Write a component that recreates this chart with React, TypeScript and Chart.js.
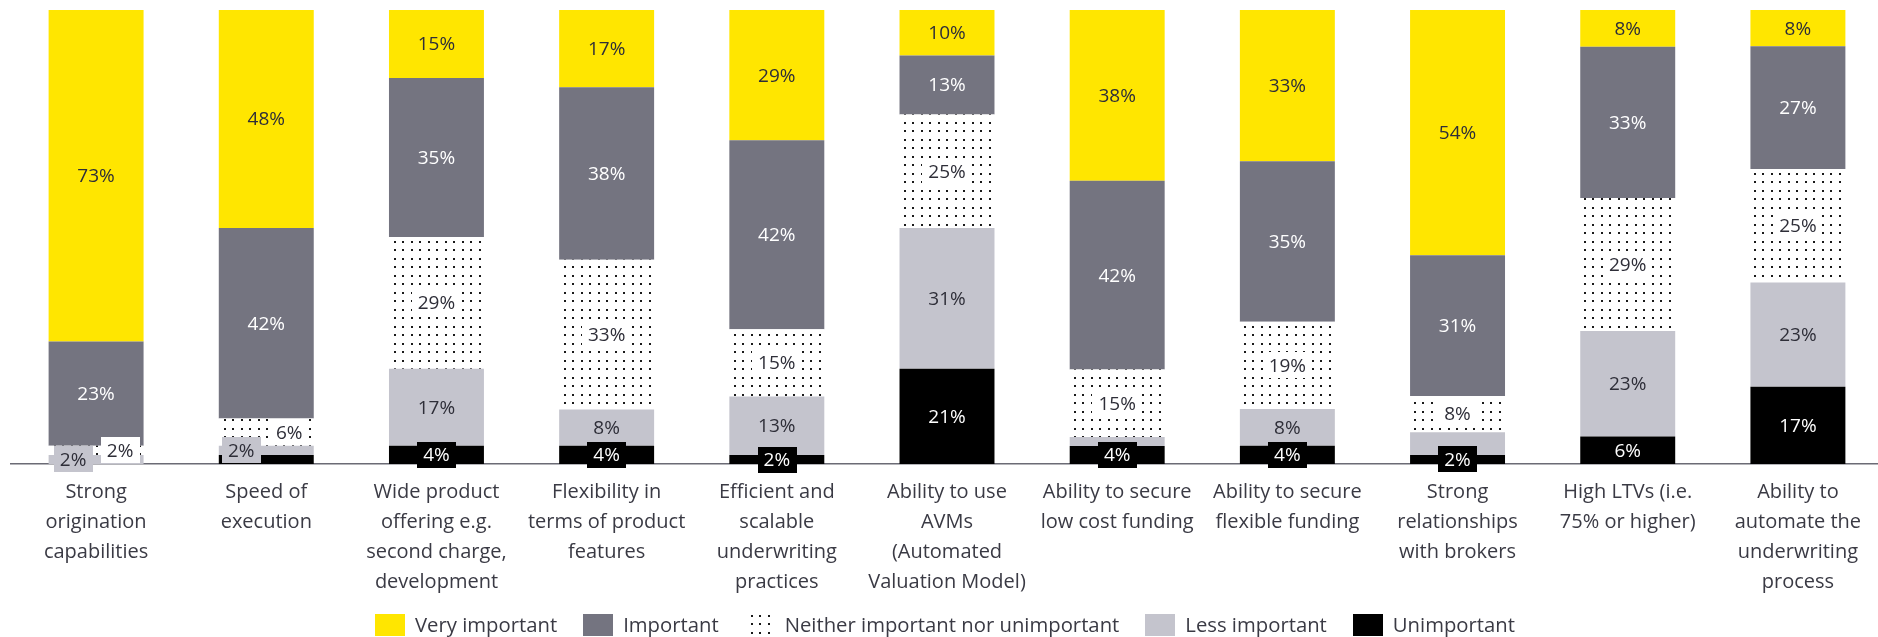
import React, { useEffect, useRef } from "react";
import { Chart, registerables } from "chart.js";

Chart.register(...registerables);

// ---------------- data ----------------
const categories: string[][] = [
  ["Strong", "origination", "capabilities"],
  ["Speed of", "execution"],
  ["Wide product", "offering e.g.", "second charge,", "development"],
  ["Flexibility in", "terms of product", "features"],
  ["Efficient and", "scalable", "underwriting", "practices"],
  ["Ability to use", "AVMs", "(Automated", "Valuation Model)"],
  ["Ability to secure", "low cost funding"],
  ["Ability to secure", "flexible funding"],
  ["Strong", "relationships", "with brokers"],
  ["High LTVs (i.e.", "75% or higher)"],
  ["Ability to", "automate the", "underwriting", "process"],
];

const veryImportant = [73, 48, 15, 17, 29, 10, 38, 33, 54, 8, 8];
const important = [23, 42, 35, 38, 42, 13, 42, 35, 31, 33, 27];
const neither = [2, 6, 29, 33, 15, 25, 15, 19, 8, 29, 25];
const lessImportant = [2, 2, 17, 8, 13, 31, 2, 8, 5, 23, 23];
const unimportant = [0, 2, 4, 4, 2, 21, 4, 4, 2, 6, 17];

const seriesNames = [
  "Unimportant",
  "Less important",
  "Neither important nor unimportant",
  "Important",
  "Very important",
];
const seriesValues = [unimportant, lessImportant, neither, important, veryImportant];

// segments without a printed label in the source
const unlabeled: number[][] = [[1], [6, 8], [], [], []];
// horizontal nudges of some small-segment labels (px)
const labelShift: Record<number, number>[] = [{}, { 0: -23, 1: -25 }, { 0: 24, 1: 23 }, {}, {}];

// ---------------- styles ----------------
const YELLOW = "#FFE600";
const DARK = "#747480";
const LIGHT = "#C4C4CD";
const BLACK = "#000000";
const TEXT = "#2E2E38";
const FONT = "'Open Sans', 'DejaVu Sans', sans-serif";

function makeDots(): CanvasPattern | string {
  const c = document.createElement("canvas");
  c.width = 17;
  c.height = 17;
  const g = c.getContext("2d");
  if (!g) return "#fff";
  g.fillStyle = "#ffffff";
  g.fillRect(0, 0, 17, 17);
  g.fillStyle = "#1a1a1a";
  [[3, 3], [11, 3], [3, 11], [11, 11]].forEach(([x, y]) => g.fillRect(x, y, 2, 2));
  return g.createPattern(c, "repeat") || "#fff";
}

export default function App() {
  const ref = useRef<HTMLCanvasElement>(null);

  useEffect(() => {
    const canvas = ref.current;
    if (!canvas) return;
    const dots = makeDots();

    const fills = [BLACK, LIGHT, dots, DARK, YELLOW];
    const boxFills = [BLACK, LIGHT, "#ffffff", DARK, YELLOW];
    const textColors = ["#ffffff", TEXT, TEXT, "#ffffff", TEXT];

    const totals = categories.map((_, i) =>
      seriesValues.reduce((s, arr) => s + arr[i], 0)
    );

    const datasets = seriesNames.map((name, si) => ({
      label: name,
      data: seriesValues[si].map((v, i) => (v / totals[i]) * 100),
      backgroundColor: fills[si] as any,
      borderWidth: 0,
      barPercentage: 0.558,
      categoryPercentage: 1,
    }));

    const labelPlugin = {
      id: "segLabels",
      afterDatasetsDraw(chart: any) {
        const ctx = chart.ctx as CanvasRenderingContext2D;
        ctx.save();
        ctx.font = `19px ${FONT}`;
        ctx.textAlign = "center";
        ctx.textBaseline = "middle";
        chart.data.datasets.forEach((_: any, di: number) => {
          const meta = chart.getDatasetMeta(di);
          meta.data.forEach((el: any, i: number) => {
            const v = seriesValues[di][i];
            if (!v || unlabeled[di].includes(i)) return;
            const { x, y, base } = el.getProps(["x", "y", "base"], true);
            const cx = x + (labelShift[di][i] || 0);
            const cy = (y + base) / 2;
            const text = `${v}%`;
            const tw = ctx.measureText(text).width;
            ctx.fillStyle = boxFills[di];
            ctx.fillRect(Math.round(cx - tw / 2 - 6), Math.round(cy - 13), Math.round(tw + 12), 26);
            ctx.fillStyle = textColors[di];
            ctx.fillText(text, cx, cy + 1);
          });
        });
        ctx.restore();
      },
    };

    const legendPlugin = {
      id: "bottomLegend",
      afterDraw(chart: any) {
        const ctx = chart.ctx as CanvasRenderingContext2D;
        const order = [4, 3, 2, 1, 0];
        const boxW = 30;
        const boxH = 22;
        const gap = 10;
        const itemGap = 26;
        ctx.save();
        ctx.font = `20.3px ${FONT}`;
        ctx.textBaseline = "middle";
        ctx.textAlign = "left";
        const widths = order.map((si) => ctx.measureText(seriesNames[si]).width);
        const total =
          widths.reduce((s, w) => s + boxW + gap + w, 0) + itemGap * (order.length - 1);
        const area = chart.chartArea;
        let x = (area.left + area.right) / 2 - 2 - total / 2;
        const cy = 625;
        order.forEach((si, k) => {
          ctx.fillStyle = fills[si] as any;
          ctx.fillRect(Math.round(x), cy - boxH / 2, boxW, boxH);
          ctx.fillStyle = "#3A3A44";
          ctx.fillText(seriesNames[si], x + boxW + gap, cy + 1);
          x += boxW + gap + widths[k] + itemGap;
        });
        ctx.restore();
      },
    };

    const chart = new Chart(canvas, {
      type: "bar",
      data: { labels: categories as any, datasets: datasets as any },
      options: {
        animation: false,
        responsive: false,
        maintainAspectRatio: false,
        layout: { padding: { top: 10, left: 11, right: 1, bottom: 0 } },
        plugins: {
          legend: { display: false },
          tooltip: { enabled: false },
        },
        scales: {
          x: {
            stacked: true,
            grid: { display: false, drawTicks: false },
            border: { display: true, color: "#6B6B75", width: 1.5 },
            ticks: {
              autoSkip: false,
              maxRotation: 0,
              minRotation: 0,
              padding: 13,
              color: "#3A3A44",
              font: { family: FONT, size: 20, lineHeight: 1.5 },
            },
            afterFit: (s: any) => {
              s.height = 173;
            },
          },
          y: {
            stacked: true,
            display: false,
            min: 0,
            max: 100,
          },
        },
      },
      plugins: [labelPlugin, legendPlugin],
    });

    return () => chart.destroy();
  }, []);

  return (
    <div
      style={{
        position: "absolute",
        left: 0,
        top: 0,
        width: 1878,
        height: 637,
        overflow: "hidden",
        background: "#ffffff",
      }}
    >
      <canvas ref={ref} width={1884} height={637} style={{ display: "block", width: 1884, height: 637 }} />
    </div>
  );
}
